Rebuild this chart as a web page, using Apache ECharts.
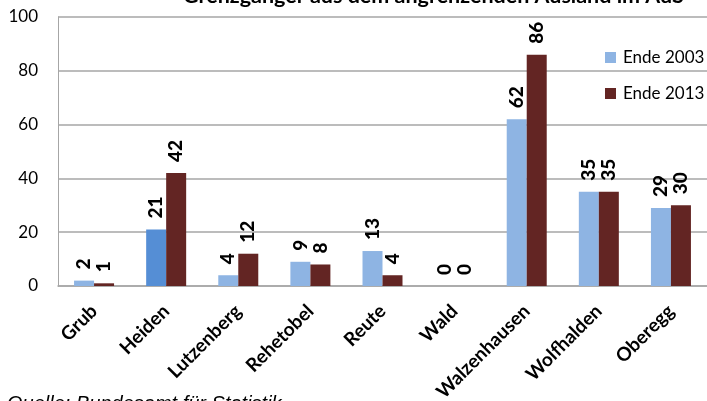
<!DOCTYPE html>
<html>
<head>
<meta charset="utf-8">
<script src="https://cdn.jsdelivr.net/npm/echarts@6/dist/echarts.min.js"></script>
<style>html,body{margin:0;padding:0;background:#fff}#c{width:707px;height:401px}</style>
</head>
<body>
<div id="c"></div>
<script>
var categories = ["Grub","Heiden","Lutzenberg","Rehetobel","Reute","Wald","Walzenhausen","Wolfhalden","Oberegg"];
var values2003 = [2,21,4,9,13,0,62,35,29];
var values2013 = [1,42,12,8,4,0,86,35,30];
var yTicks = [0,20,40,60,80,100];
var seriesNames = ["Ende 2003","Ende 2013"];
var titleText = "Grenzgänger aus dem angrenzenden Ausland im AuS";
var sourceText = "Quelle: Bundesamt für Statistik";

var FONT = "Lato";
var chart = echarts.init(document.getElementById('c'));
var lbl = {
  show: true, position: 'top', rotate: 90, align: 'left', verticalAlign: 'middle',
  distance: 11, fontFamily: FONT, fontWeight: 900, fontSize: 19, color: '#000'
};
chart.setOption({
  animation: false,
  backgroundColor: '#fff',
  graphic: [
    { type: 'text', left: 183, top: -15, style: { text: titleText, font: 'bold 21.5px ' + FONT, fill: '#000' } },
    { type: 'text', left: 7, top: 394, style: { text: sourceText, font: 'italic 20px "Liberation Sans"', fill: '#000' } }
  ],
  legend: {
    orient: 'vertical', left: 600, top: 44, itemWidth: 11, itemHeight: 11, itemGap: 19,
    icon: 'rect',
    textStyle: { fontFamily: FONT, fontSize: 17, color: '#000', padding: [0,0,0,2] },
    data: seriesNames
  },
  grid: { left: 58, right: 0, top: 17, bottom: 115, containLabel: false, outerBoundsMode: 'none' },
  xAxis: {
    type: 'category', data: categories,
    axisLine: { lineStyle: { color: '#A6A6A6', width: 1.5 } },
    axisTick: { show: false },
    axisLabel: { rotate: 45, interval: 0, margin: 22, fontFamily: FONT, fontWeight: 'bold', fontSize: 19, color: '#000' }
  },
  yAxis: {
    type: 'value', min: 0, max: 100, interval: 20,
    axisLine: { show: true, lineStyle: { color: '#A6A6A6' } },
    axisTick: { show: false },
    splitLine: { lineStyle: { color: '#A6A6A6', width: 1.5 } },
    axisLabel: { margin: 20, fontFamily: FONT, fontSize: 17, color: '#000',
      formatter: function (v) { return yTicks.indexOf(v) >= 0 ? String(v) : ''; } }
  },
  series: [
    { name: seriesNames[0], type: 'bar', barWidth: 20, barGap: '0%',
      itemStyle: { color: '#8EB4E3' },
      data: values2003.map(function (v, i) { return i === 1 ? { value: v, itemStyle: { color: '#558ED5' } } : v; }),
      label: lbl },
    { name: seriesNames[1], type: 'bar', barWidth: 20, barGap: '0%',
      itemStyle: { color: '#632523' },
      data: values2013, label: lbl }
  ]
});
</script>
</body>
</html>
